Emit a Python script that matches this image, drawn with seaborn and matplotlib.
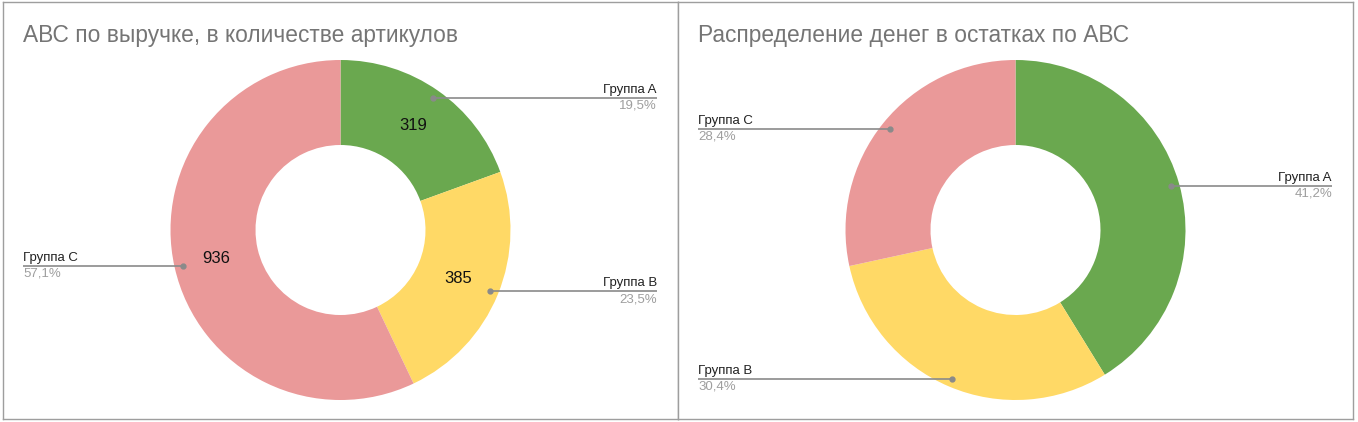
import numpy as np
import matplotlib.pyplot as plt
import seaborn as sns

groups = ["Группа A", "Группа B", "Группа C"]
sku_counts = [319, 385, 936]          # left chart: number of articles per group
stock_share = [41.2, 30.4, 28.4]      # right chart: % of money in stock
colors = ["#6aa84f", "#ffd966", "#ea9999"]
titles = ["АВС по выручке, в количестве артикулов",
          "Распределение денег в остатках по АВС"]

sns.set_theme(style="white")
plt.rcParams["font.family"] = ["Liberation Sans", "DejaVu Sans"]

W, H = 1358, 422
R = 170          # outer radius in pixels
CY = 230         # vertical centre of the donuts in pixels

fig = plt.figure(figsize=(W / 100, H / 100), dpi=100)


def draw_donut(x0, x1, values, title, show_counts):
    ax = fig.add_axes([x0 / W, 3 / H, (x1 - x0) / W, 417 / H])
    cx = (x0 + x1) / 2

    def px(x, y):
        # pixel position -> data units (1 unit = outer radius)
        return (x - cx) / R, (CY - y) / R

    wedges, _ = ax.pie(values, colors=colors, startangle=90, counterclock=False,
                       radius=1, wedgeprops=dict(width=0.5, linewidth=0))

    total = float(sum(values))
    for w, v, name in zip(wedges, values, groups):
        ang = np.deg2rad((w.theta1 + w.theta2) / 2)
        c, s = np.cos(ang), np.sin(ang)
        dx, dy = 0.95 * c, 0.95 * s
        if c >= 0:
            ex = px(x1 - 21, 0)[0]
            ha = "right"
        else:
            ex = px(x0 + 20, 0)[0]
            ha = "left"
        ax.plot([dx, ex], [dy, dy], color="#8a8a8a", lw=1.2, solid_capstyle="butt")
        ax.plot(dx, dy, "o", color="#8a8a8a", ms=3.5)
        ax.text(ex, dy + 0.012, name, ha=ha, va="bottom", fontsize=9.5, color="#222222")
        pct = f"{v / total * 100:.1f}%".replace(".", ",")
        ax.text(ex, dy - 0.012, pct, ha=ha, va="top", fontsize=9.5, color="#9e9e9e")
        if show_counts:
            ax.text(0.75 * c, 0.75 * s, str(v), ha="center", va="center",
                    fontsize=12, color="#111111")

    tx, ty = px(x0 + 20, 35)
    ax.text(tx, ty, title, ha="left", va="center", fontsize=16.4, color="#757575")

    left, top = px(x0, 2)
    right, bottom = px(x1, 419)
    ax.set_xlim(left, right)
    ax.set_ylim(bottom, top)
    ax.set_aspect("auto")
    ax.set_frame_on(True)
    for sp in ax.spines.values():
        sp.set_color("#9e9e9e")
        sp.set_linewidth(1)
    ax.set_xticks([])
    ax.set_yticks([])


draw_donut(3, 678, sku_counts, titles[0], True)
draw_donut(678, 1353, stock_share, titles[1], False)

fig.savefig("out.png", dpi=100)
